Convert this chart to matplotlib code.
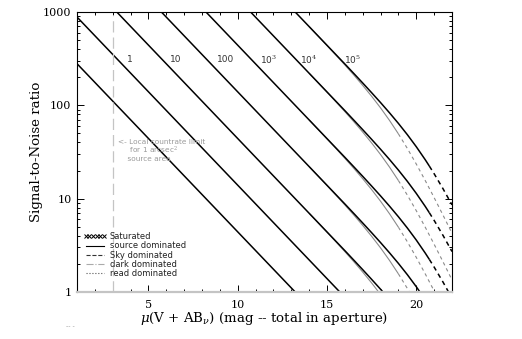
import numpy as np
import matplotlib
matplotlib.use("Agg")
import matplotlib.pyplot as plt
from matplotlib.lines import Line2D
from matplotlib.ticker import FixedLocator, NullFormatter, MultipleLocator, LogLocator

plt.rcParams['mathtext.fontset'] = 'dejavuserif'

# ---------------- data ----------------
exposure_labels = ["1", "10", "100", r"10$^3$", r"10$^4$", r"10$^5$"]
countrate_limit_mag = 3.0

# black curves (low background), magnitude vs S/N
black_t01_mag = [1, 16]
black_t01_snr = [279.3, 0.2775]
black_t1_mag = [1, 16, 16.5]
black_t1_snr = [883.3, 0.8777, 0.6946]
black_t10_mag = [1, 16, 16.5, 17, 17.5, 18, 18.5]
black_t10_snr = [2793, 2.775, 2.196, 1.735, 1.365, 1.070, 0.8316]
black_t100_mag = [1, 16, 16.5, 17, 17.5, 18, 18.5, 19, 19.5, 20, 20.5]
black_t100_snr = [8833, 8.777, 6.946, 5.486, 4.318, 3.383, 2.630, 2.023, 1.533, 1.139, 0.8269]
black_t1e3_mag = [1, 16, 16.5, 17, 17.5, 18, 18.5, 19, 19.5, 20, 20.5, 20.73, 21, 21.5, 22]
black_t1e3_snr = [27930, 27.75, 21.96, 17.35, 13.65, 10.70, 8.316, 6.397, 4.847, 3.602, 2.615, 2.236, 1.849, 1.274, 0.8579]
black_t1e4_mag = [1, 16, 16.5, 17, 17.5, 18, 18.5, 19, 19.5, 20, 20.5, 20.73, 21, 21.5, 22]
black_t1e4_snr = [88330, 87.77, 69.46, 54.86, 43.18, 33.83, 26.30, 20.23, 15.33, 11.39, 8.269, 7.071, 5.848, 4.030, 2.713]
black_t1e5_mag = [1, 16, 16.5, 17, 17.5, 18, 18.5, 19, 19.5, 20, 20.5, 20.73, 21, 21.5, 22]
black_t1e5_snr = [279300, 277.5, 219.6, 173.5, 136.5, 107.0, 83.16, 63.97, 48.47, 36.02, 26.15, 22.36, 18.49, 12.74, 8.579]
black_sky_from_mag = 20.73

# gray curves (higher background)
gray_t10_mag = [14, 14.5, 15, 15.5, 16, 16.5, 17, 17.5, 18]
gray_t10_snr = [6.981, 5.529, 4.372, 3.448, 2.708, 2.114, 1.635, 1.250, 0.9385]
gray_t100_mag = [14, 14.5, 15, 15.5, 16, 16.5, 17, 17.5, 18, 18.5, 19, 19.5, 20]
gray_t100_snr = [22.08, 17.48, 13.83, 10.90, 8.563, 6.685, 5.172, 3.952, 2.968, 2.181, 1.563, 1.091, 0.7429]
gray_t1e3_mag = [14, 14.5, 15, 15.5, 16, 16.5, 17, 17.5, 18, 18.5, 19, 19.5, 20, 20.5, 21, 21.5]
gray_t1e3_snr = [69.81, 55.29, 43.72, 34.48, 27.08, 21.14, 16.35, 12.50, 9.385, 6.896, 4.942, 3.450, 2.349, 1.566, 1.026, 0.6643]
gray_t1e4_mag = [14, 14.5, 15, 15.5, 16, 16.5, 17, 17.5, 18, 18.5, 19, 19.5, 20, 20.5, 21, 21.5, 22]
gray_t1e4_snr = [220.8, 174.8, 138.3, 109.0, 85.63, 66.85, 51.72, 39.52, 29.68, 21.81, 15.63, 10.91, 7.429, 4.952, 3.246, 2.101, 1.348]
gray_t1e5_mag = [14, 14.5, 15, 15.5, 16, 16.5, 17, 17.5, 18, 18.5, 19, 19.5, 20, 20.5, 21, 21.5, 22]
gray_t1e5_snr = [698.1, 552.9, 437.2, 344.8, 270.8, 211.4, 163.5, 125.0, 93.85, 68.96, 49.42, 34.50, 23.49, 15.66, 10.26, 6.643, 4.262]
gray_sky_from_mag = 19.0

legend_labels = ["Saturated", "source dominated", "Sky dominated", "dark dominated", "read dominated"]
annotation_text = "<- Local countrate limit\n     for 1 arcsec$^2$\n    source area"

# ---------------- layout ----------------
label_mag = [3.79, 6.2, 8.82, 11.22, 13.46, 15.97]
label_snr = 306

fig = plt.figure(figsize=(5.22, 3.39), dpi=100)
ax = fig.add_axes([77/522, 1-292/339, 375/522, 280/339])

def draw(mags, snrs, thr, color, lw, dash):
    m = np.asarray(mags, float)
    s = np.asarray(snrs, float)
    sol = m <= thr
    ax.plot(m[sol], s[sol], color=color, lw=lw, solid_capstyle='butt')
    dsh = m >= thr
    if dsh.sum() >= 2:
        ax.plot(m[dsh], s[dsh], color=color, lw=lw, ls=(0, dash))

gray_c = '#8a8a8a'
for mg, sn in [(gray_t10_mag, gray_t10_snr), (gray_t100_mag, gray_t100_snr),
               (gray_t1e3_mag, gray_t1e3_snr), (gray_t1e4_mag, gray_t1e4_snr),
               (gray_t1e5_mag, gray_t1e5_snr)]:
    draw(mg, sn, gray_sky_from_mag, gray_c, 0.8, (3, 3))

for mg, sn in [(black_t01_mag, black_t01_snr), (black_t1_mag, black_t1_snr),
               (black_t10_mag, black_t10_snr), (black_t100_mag, black_t100_snr),
               (black_t1e3_mag, black_t1e3_snr), (black_t1e4_mag, black_t1e4_snr),
               (black_t1e5_mag, black_t1e5_snr)]:
    draw(mg, sn, black_sky_from_mag, 'black', 1.1, (3, 2.5))

ax.axvline(countrate_limit_mag, ymin=0, ymax=0.99, color='#c4c4c4', lw=0.9, ls=(0, (9, 4)))

for xm, lab in zip(label_mag, exposure_labels):
    ax.text(xm, label_snr, lab, fontsize=6.5, color='#333333', ha='left', va='center',
            family='DejaVu Sans')

ax.text(3.29, 43.5, annotation_text, fontsize=5.3, color='#9a9a9a', ha='left', va='top',
        linespacing=1.0)

ax.set_yscale('log')
ax.set_xlim(1, 22)
ax.set_ylim(1, 1000)
ax.xaxis.set_major_locator(FixedLocator([5, 10, 15, 20]))
ax.xaxis.set_minor_locator(MultipleLocator(1))
ax.yaxis.set_major_locator(FixedLocator([1, 10, 100, 1000]))
ax.yaxis.set_minor_locator(LogLocator(base=10, subs=np.arange(2, 10)))
ax.yaxis.set_minor_formatter(NullFormatter())
ax.set_yticklabels(["1", "10", "100", "1000"])
ax.set_xticklabels(["5", "10", "15", "20"])
ax.tick_params(which='both', direction='in', top=True, right=True, width=0.7, color='black')
ax.tick_params(which='major', length=5, labelsize=8, pad=4)
ax.tick_params(axis='x', which='major', pad=6)
ax.tick_params(which='minor', length=2.5)
for lab in ax.get_xticklabels() + ax.get_yticklabels():
    lab.set_family('DejaVu Serif')
for sp in ['left', 'top', 'right']:
    ax.spines[sp].set_linewidth(0.8)
ax.spines['bottom'].set_color('#c4c4c4')
ax.spines['bottom'].set_linewidth(1.6)

ax.set_xlabel(r"$\mu$(V + AB$_\nu$) (mag -- total in aperture)", family='DejaVu Serif',
              fontsize=9.6, labelpad=0)
ax.set_ylabel("Signal-to-Noise ratio", family='DejaVu Serif', fontsize=9.6, labelpad=0)

handles = [
    Line2D([], [], marker='x', ls='none', ms=2.2, mew=0.7, color='black'),
    Line2D([], [], ls='-', lw=0.8, color='black'),
    Line2D([], [], ls='--', lw=0.8, color='#333333'),
    Line2D([], [], ls='-.', lw=0.8, color='#aaaaaa'),
    Line2D([], [], ls=':', lw=0.8, color='#555555'),
]
leg = ax.legend(handles, legend_labels, loc='lower left', bbox_to_anchor=(0.016, 0.05),
                frameon=False, fontsize=6, numpoints=6, handlelength=2.8, handletextpad=0.4,
                labelspacing=0.02, borderpad=0, borderaxespad=0)
for t in leg.get_texts():
    t.set_color('#222222')

fig.text(66/522, 1-327/339, "-- -", fontsize=4.5, color='#888888', ha='left', va='center')

fig.savefig("out.png", dpi=100)
